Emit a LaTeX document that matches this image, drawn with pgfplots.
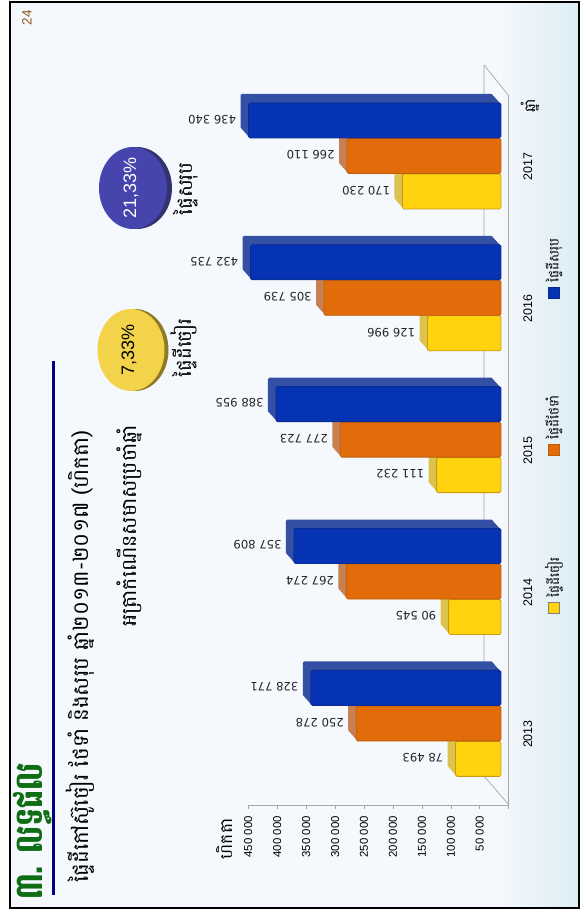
\documentclass[border=0pt]{standalone}
\usepackage{pgfplots}
\usepackage{pgfplotstable}
\pgfplotsset{compat=1.18}
\usepackage{fontspec}
\setmainfont{Liberation Sans}
\newfontfamily\kh[Script=Khmer]{Battambang}
\newfontfamily\lab{DejaVu Sans}
\definecolor{bgm}{HTML}{F5F8FC}
\definecolor{bgr}{HTML}{DCEDF4}
\definecolor{yf}{HTML}{FFD40F}\definecolor{ye}{HTML}{DCC24F}\definecolor{yb}{HTML}{C99A12}
\definecolor{of}{HTML}{E36C0A}\definecolor{oe}{HTML}{C88050}\definecolor{ob}{HTML}{BF5C08}
\definecolor{bf}{HTML}{0632B4}\definecolor{be}{HTML}{3350A5}\definecolor{bb}{HTML}{0A2C90}
\definecolor{hgreen}{HTML}{0F6E14}
\definecolor{pageno}{HTML}{8A5A1E}
\definecolor{navy}{HTML}{000080}
\definecolor{dy}{HTML}{F3D34A}\definecolor{dys}{HTML}{8F7A25}
\definecolor{db}{HTML}{4545AD}\definecolor{dbs}{HTML}{333370}
\pgfplotstableread{
pos tap maint total
0 78493 250278 328771
1 90545 267274 357809
2 111232 277723 388955
3 126996 305739 432735
4 170230 266110 436340
}\rubber
\pgfplotsset{
 barbase/.style={xbar, bar width=35pt, forget plot, rounded corners=1.5pt},
}
\newcommand{\extrude}[3]{% column, shift, colour
 \pgfplotsinvokeforeach{8,7,...,1}{
  \addplot[barbase, bar shift=#2pt, fill=#3, draw=none, xshift=-7.7pt-##1*1pt, yshift=10.7pt+##1*1.12pt]
    table[x=#1,y=pos]{\rubber};
 }
}
\newcommand{\front}[4]{% column, shift, fill, border
  \addplot[barbase, bar shift=#2pt, fill=#3, draw=#4, line width=0.8pt, xshift=-7.7pt, yshift=10.7pt,
    nodes near coords, point meta=x,
    /pgf/number format/1000 sep={\ },
    /pgf/number format/fixed,
    /pgf/number format/assume math mode=true,
    every node near coord/.append style={font=\lab\fontsize{11.6}{12}\selectfont, text=black!85, rotate=180, anchor=west, xshift=12pt, inner sep=0pt, yshift={-(#2pt)-1pt}}]
    table[x=#1,y=pos]{\rubber};
}
\begin{document}
\begin{tikzpicture}[x=1pt,y=1pt]
\useasboundingbox (0,0) rectangle (584,911);
\fill[white] (0,0) rectangle (584,911);
% slide background
\fill[bgm] (10,3) rectangle (579,909);
\shade[left color=bgm,right color=bgr] (500,3) rectangle (579,909);
\draw[black,line width=1.6pt] (10,3) rectangle (579,909);
% wall lines
\draw[gray!70,line width=0.7pt] (484,846) -- (484,135) -- (509,106);
\draw[gray!70,line width=0.7pt] (484,846) -- (509,815);
\begin{axis}[
 at={(378.5pt,460.65pt)}, anchor=center,
 scale only axis, width=260.4pt, height=709.3pt,
 x dir=reverse, xmin=0, xmax=450000, ymin=-0.5, ymax=4.5,
 axis x line*=bottom, axis y line*=right,
 axis line style={gray!70,line width=0.7pt},
 clip=false, scaled ticks=false,
 xtick={0,50000,100000,150000,200000,250000,300000,350000,400000,450000},
 xticklabels={,50 000,100 000,150 000,200 000,250 000,300 000,350 000,400 000,450 000},
 ytick={0,1,2,3,4}, yticklabels={2013,2014,2015,2016,2017},
 minor ytick={-0.5,0.5,1.5,2.5,3.5,4.5},
 major tick length=4pt, minor tick length=4pt,
 tick style={gray!70,line width=0.6pt},
 ytick style={draw=none},
 minor y tick style={gray!70,line width=0.6pt},
 tick align=outside,
 xticklabel shift=7pt,
 xticklabel style={rotate=90,anchor=east,font=\fontsize{11.4}{12}\selectfont,inner sep=0pt},
 yticklabel style={rotate=90,anchor=center,yshift=-15pt,font=\fontsize{12.5}{13}\selectfont,inner sep=0pt},
]
\extrude{tap}{-35.5}{ye}
\front{tap}{-35.5}{yf}{yb}
\extrude{maint}{0}{oe}
\front{maint}{0}{of}{ob}
\extrude{total}{35.5}{be}
\front{total}{35.5}{bf}{bb}
\end{axis}
% Axis titles
\node[rotate=90,font=\kh\fontsize{17}{18}\selectfont] at (225,72) {ហិកតា};
\node[rotate=90,font=\kh\fontsize{15}{16}\selectfont] at (530,805) {ឆ្នាំ};
% Headings
\node[rotate=90,anchor=west,inner sep=0pt,font=\kh\bfseries\fontsize{28.5}{30}\selectfont,text=hgreen] at (33,11) {\scalebox{1}[1.35]{៣. លទ្ធផល}};
\fill[navy] (51.5,16) rectangle (54.5,550);
\node[rotate=90,anchor=west,inner sep=0pt,font=\kh\fontsize{21.4}{24}\selectfont] at (80,28) {ផ្ទៃដីកៅស៊ូចៀរ ថែទាំ និងសរុប ឆ្នាំ២០១៣-២០១៧ (ហិកតា)};
\node[rotate=90,anchor=west,inner sep=0pt,font=\kh\fontsize{20.5}{22}\selectfont] at (129,284) {អត្រាកំណើនសមាសប្រចាំឆ្នាំ};
\node[rotate=90,font=\fontsize{13.5}{14}\selectfont,text=pageno] at (27,893) {24};
% Discs
\fill[dys] (135,561) ellipse (33.5 and 41);
\fill[dy] (131,561) ellipse (33.5 and 41);
\node[rotate=90,font=\fontsize{18}{20}\selectfont] at (129,561) {7,33\%};
\fill[dbs] (137,723) ellipse (35 and 41);
\fill[db] (133,723) ellipse (34 and 41);
\node[rotate=90,text=white,font=\fontsize{18}{20}\selectfont] at (131,723) {21,33\%};
\node[rotate=90,font=\kh\fontsize{19.7}{21}\selectfont] at (184,563) {ផ្ទៃដីចៀរ};
\node[rotate=90,font=\kh\fontsize{20}{21}\selectfont] at (186,722) {ផ្ទៃសរុប};
% Legend
\foreach \yy/\cc/\dd/\txt in {303/yf/gray/ផ្ទៃដីចៀរ, 461/of/ob/ផ្ទៃដីថែទាំ, 618/bf/bb/ផ្ទៃដីសរុប}{
  \filldraw[fill=\cc,draw=\dd,line width=0.8pt] (548.5,\yy-5.5) rectangle (559.5,\yy+5.5);
  \node[rotate=90,anchor=west,inner sep=0pt,font=\kh\fontsize{13.5}{14}\selectfont] at (554,\yy+10) {\txt};
}
\end{tikzpicture}
\end{document}
